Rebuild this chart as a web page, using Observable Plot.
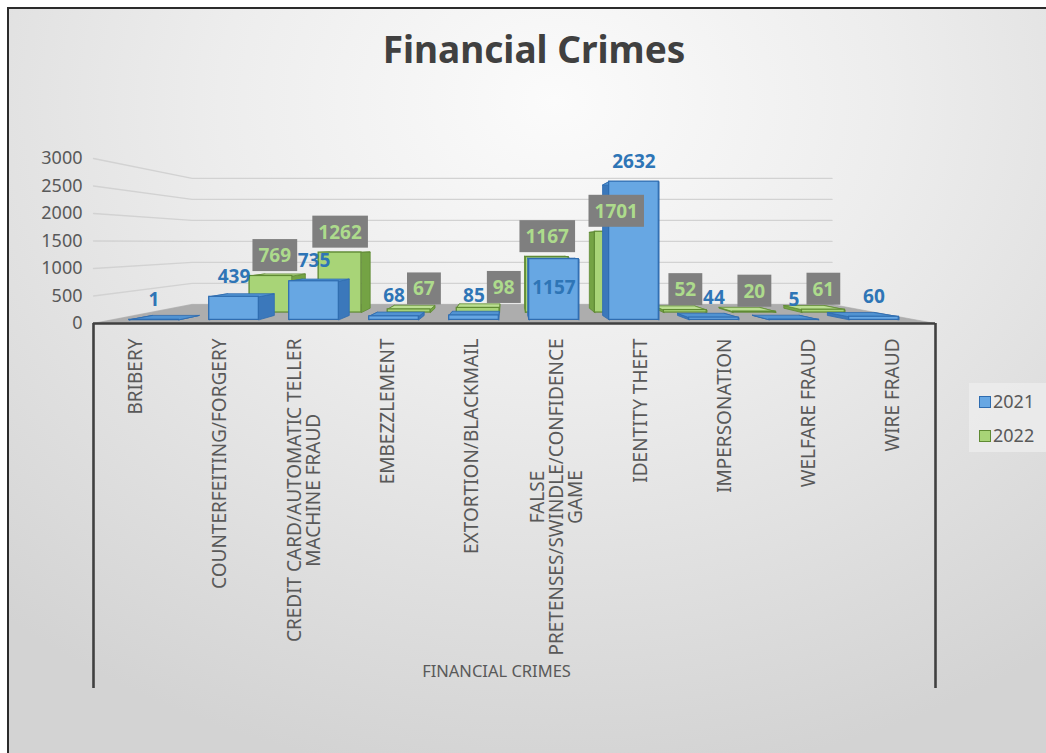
<!DOCTYPE html>
<html>
<head>
<meta charset="utf-8">
<script src="https://cdn.jsdelivr.net/npm/d3@7"></script>
<script src="https://cdn.jsdelivr.net/npm/@observablehq/plot@0.6"></script>
<style>
  html, body { margin: 0; padding: 0; width: 1046px; height: 753px; overflow: hidden; background: #ffffff; }
  body { position: relative; font-family: "Noto Sans", sans-serif; }
  #frame { position: absolute; left: 7px; top: 7px; width: 1050px; height: 760px;
    border-left: 2px solid #2b2b2b; border-top: 2px solid #2b2b2b;
    background: radial-gradient(ellipse 80% 90% at 52% 12%, #fbfbfb 0%, #ededed 40%, #d3d3d3 100%); }
  #title { position: absolute; left: 0; top: 30px; width: 1068px; text-align: center;
    font-size: 37px; line-height: 37px; font-weight: bold; color: #404040; }
  #chart { position: absolute; left: 0; top: 100px; }
  #legend { position: absolute; left: 969px; top: 383px; width: 77px; height: 69px;
    background: rgba(238,238,238,0.75); }
  #legend .item { position: absolute; left: 10px; height: 16px; font-size: 18px; line-height: 16px; color: #595959; }
  #legend .sw { display: inline-block; width: 10px; height: 10px; margin-right: 2px; vertical-align: 0px; border: 1px solid; }
</style>
</head>
<body>
<div id="frame"></div>
<div id="title"></div>
<div id="chart"></div>
<div id="legend"></div>
<script>
// ---------------- data ----------------
const chartTitle = "Financial Crimes";
const axisTitle = "FINANCIAL CRIMES";
const categories = [
  "BRIBERY", "COUNTERFEITING/FORGERY", "CREDIT CARD/AUTOMATIC TELLER MACHINE FRAUD",
  "EMBEZZLEMENT", "EXTORTION/BLACKMAIL", "FALSE PRETENSES/SWINDLE/CONFIDENCE GAME",
  "IDENTITY THEFT", "IMPERSONATION", "WELFARE FRAUD", "WIRE FRAUD"
];
const tickLabels = [
  "BRIBERY", "COUNTERFEITING/FORGERY", "CREDIT CARD/AUTOMATIC TELLER\nMACHINE FRAUD",
  "EMBEZZLEMENT", "EXTORTION/BLACKMAIL", "FALSE\nPRETENSES/SWINDLE/CONFIDENCE\nGAME",
  "IDENTITY THEFT", "IMPERSONATION", "WELFARE FRAUD", "WIRE FRAUD"
];
const seriesNames = ["2021", "2022"];
const values2021 = [1, 439, 735, 68, 85, 1157, 2632, 44, 5, 60];
const values2022 = [null, 769, 1262, 67, 98, 1167, 1701, 52, 20, 61];
const yTicks = [0, 500, 1000, 1500, 2000, 2500, 3000];
const labelInside2021 = new Set(["FALSE PRETENSES/SWINDLE/CONFIDENCE GAME"]);

// ---------------- styles ----------------
const FONT = "'Noto Sans', sans-serif";
const colors = {
  "2021": {front: "#67a7e3", side: "#3b78bb", top: "#5193d2", stroke: "#2e6cb0", label: "#2e75b6"},
  "2022": {front: "#a8d477", side: "#74a344", top: "#bbdf92", stroke: "#5f8a33", label: "#addb8c"}
};
const BOX_PAD_X = 6, BOX_PAD_Y = 3;

// ---------------- simple 3D view (perspective toward a vanishing point) ----------------
const VX = 4.38, VY = 1465, BAR_W = 0.62;
const planes = {
  "2021": {front: {sx: 0.95, sy: 0.955}, back: {sx: 0.89, sy: 0.90}},
  "2022": {front: {sx: 0.82, sy: 0.864}, back: {sx: 0.77, sy: 0.81}},
  wall: {sx: 0.76, sy: 0.764}
};
const P = (x, y, p) => ({x: VX + (x - VX) * p.sx, y: VY + (y - VY) * p.sy});
const X0 = -0.5, X1 = categories.length - 0.5;

function barRows(series, values) {
  return values.map((v, i) => v == null ? null : {series, i, v, cat: categories[i]}).filter(Boolean);
}
const rows2021 = barRows("2021", values2021);
const rows2022 = barRows("2022", values2022);

function frontRects(rows) {
  return rows.map(d => {
    const p = planes[d.series].front;
    const a = P(d.i - BAR_W / 2, 0, p), b = P(d.i + BAR_W / 2, d.v, p);
    return {...d, x1: a.x, x2: b.x, y1: a.y, y2: b.y};
  });
}
function facePolys(rows, face) {
  const out = [];
  rows.forEach(d => {
    const f = planes[d.series].front, k = planes[d.series].back;
    const xl = d.i - BAR_W / 2, xr = d.i + BAR_W / 2;
    let pts;
    if (face === "left") pts = [P(xl, 0, f), P(xl, 0, k), P(xl, d.v, k), P(xl, d.v, f)];
    else if (face === "right") pts = [P(xr, 0, f), P(xr, 0, k), P(xr, d.v, k), P(xr, d.v, f)];
    else pts = [P(xl, d.v, f), P(xr, d.v, f), P(xr, d.v, k), P(xl, d.v, k)];
    pts.forEach(q => out.push({id: d.series + "-" + d.i, x: q.x, y: q.y}));
  });
  return out;
}
function labelPts(rows) {
  return rows.map(d => {
    const q = P(d.i, d.v, planes[d.series].front);
    return {...d, x: q.x, y: q.y, text: String(d.v)};
  });
}

// grid lines: slanted side wall segment + back wall segment
const gridPts = [];
yTicks.forEach(t => {
  gridPts.push({t, x: X0, y: t});
  const a = P(X0, t, planes.wall), b = P(X1, t, planes.wall);
  gridPts.push({t, x: a.x, y: a.y});
  gridPts.push({t, x: b.x, y: b.y});
});
// floor
const floorPts = [
  {x: X0, y: 0}, P(X0, 0, planes.wall), P(X1, 0, planes.wall), {x: X1, y: 0}
];

const lab2021 = labelPts(rows2021);
const lab2022 = labelPts(rows2022);

function seriesMarks(rows, s) {
  const c = colors[s];
  const common = {x: "x", y: "y", z: "id", curve: "linear-closed", stroke: c.stroke, strokeWidth: 0.8, strokeLinejoin: "miter"};
  return [
    Plot.line(facePolys(rows, "left"), {...common, fill: c.side}),
    Plot.line(facePolys(rows, "right"), {...common, fill: c.side}),
    Plot.line(facePolys(rows, "top"), {...common, fill: c.top}),
    Plot.rect(frontRects(rows), {x1: "x1", x2: "x2", y1: "y1", y2: "y2", fill: c.front, stroke: c.stroke, strokeWidth: 1.2})
  ];
}

const chart = Plot.plot({
  width: 1046, height: 620,
  marginLeft: 93, marginRight: 111, marginTop: 58, marginBottom: 397,
  x: {domain: [X0, X1]},
  y: {domain: [0, 3000]},
  style: {background: "transparent", fontFamily: FONT, overflow: "visible"},
  marks: [
    Plot.line(gridPts, {x: "x", y: "y", z: "t", stroke: "#d2d2d2", strokeWidth: 1.3}),
    Plot.line(floorPts, {x: "x", y: "y", fill: "#adadad", stroke: "#a8a8a8", strokeWidth: 0.6, curve: "linear-closed"}),
    ...seriesMarks(rows2022, "2022"),
    ...seriesMarks(rows2021, "2021"),
    Plot.ruleY([0], {stroke: "#404040", strokeWidth: 2.6}),
    Plot.axisY({ticks: yTicks, tickSize: 0, tickPadding: 11, tickFormat: d => String(d), fontSize: 18, color: "#595959", label: null}),
    Plot.axisX({ticks: [X0, X1], tickSize: 365, tickFormat: () => "", stroke: "#404040", strokeWidth: 2.6, label: null}),
    Plot.axisX({ticks: d3.range(categories.length), tickSize: 0, tickPadding: 15, tickRotate: -90,
      tickFormat: i => tickLabels[i], fontSize: 19, color: "#595959", label: null}),
    Plot.text([axisTitle], {x: (X0 + X1) / 2, frameAnchor: "bottom", dy: 353, dx: -18, text: d => d, fontSize: 16.5, fill: "#595959"}),
    Plot.text(lab2021.filter(d => !labelInside2021.has(d.cat)), {x: "x", y: "y", text: "text", dy: -20,
      fill: colors["2021"].label, fontWeight: "bold", fontSize: 19, ariaDescription: "labels2021"}),
    Plot.text(lab2021.filter(d => labelInside2021.has(d.cat)), {x: "x", y: "y", text: "text", dy: 29,
      fill: colors["2021"].label, fontWeight: "bold", fontSize: 19, ariaDescription: "labels2021"}),
    Plot.text(lab2022, {x: "x", y: "y", text: "text", dy: -20, ariaDescription: "labels2022",
      fill: colors["2022"].label, fontWeight: "bold", fontSize: 19})
  ]
});

document.getElementById("title").textContent = chartTitle;
document.getElementById("chart").append(chart);

// centre multi-line category labels (Excel-style) after layout
d3.select(chart).selectAll('g[aria-label="x-axis tick label"] text').each(function () {
  const spans = this.querySelectorAll("tspan");
  if (spans.length < 2) return;
  let L = 0;
  spans.forEach(s => { L = Math.max(L, s.getComputedTextLength()); });
  this.setAttribute("text-anchor", "middle");
  spans.forEach(s => s.setAttribute("x", -L / 2));
});

// nudge 2022 labels sideways so their boxes do not cover the 2021 labels
const TOL = 4;
const blueBoxes = [];
d3.select(chart).selectAll('g[aria-description="labels2021"] text').each(function () {
  const r = this.getBoundingClientRect();
  blueBoxes.push({left: r.left + 1, right: r.right - 1, top: r.top + TOL, bottom: r.bottom - TOL});
});
function shiftText(el, dx) {
  const t = el.getAttribute("transform") || "";
  const m = t.match(/translate\(\s*([-\d.e]+)[ ,]+([-\d.e]+)\s*\)/);
  if (m) el.setAttribute("transform", t.replace(m[0], `translate(${+m[1] + dx},${m[2]})`));
  else el.setAttribute("transform", `translate(${dx},0) ` + t);
}
d3.select(chart).selectAll('g[aria-description="labels2022"] text').each(function () {
  const g = this.getBoundingClientRect();
  const gl = g.left - BOX_PAD_X, gr = g.right + BOX_PAD_X, gt = g.top - BOX_PAD_Y + TOL, gb = g.bottom + BOX_PAD_Y - TOL;
  for (const b of blueBoxes) {
    const overlapX = gl < b.right && gr > b.left;
    const overlapY = gt < b.bottom && gb > b.top;
    if (overlapX && overlapY) {
      const gc = (gl + gr) / 2, bc = (b.left + b.right) / 2;
      const dx = gc >= bc ? (b.right + 3) - gl : (b.left - 3) - gr;
      shiftText(this, dx);
      break;
    }
  }
});
// grey boxes behind the 2022 data labels
d3.select(chart).selectAll('g[aria-description="labels2022"] text').each(function () {
  const bb = this.getBBox();
  const r = document.createElementNS("http://www.w3.org/2000/svg", "rect");
  r.setAttribute("x", bb.x - BOX_PAD_X);
  r.setAttribute("y", bb.y - BOX_PAD_Y);
  r.setAttribute("width", bb.width + 2 * BOX_PAD_X);
  r.setAttribute("height", bb.height + 2 * BOX_PAD_Y);
  const t = this.getAttribute("transform");
  if (t) r.setAttribute("transform", t);
  r.setAttribute("fill", "#7f7f7f");
  this.parentNode.insertBefore(r, this);
});

// legend
const legend = document.getElementById("legend");
seriesNames.forEach((s, k) => {
  const it = document.createElement("div");
  it.className = "item";
  it.style.top = (10 + k * 34) + "px";
  const sw = document.createElement("span");
  sw.className = "sw";
  sw.style.background = colors[s].front;
  sw.style.borderColor = colors[s].stroke;
  it.append(sw, document.createTextNode(s));
  legend.append(it);
});
</script>
</body>
</html>
